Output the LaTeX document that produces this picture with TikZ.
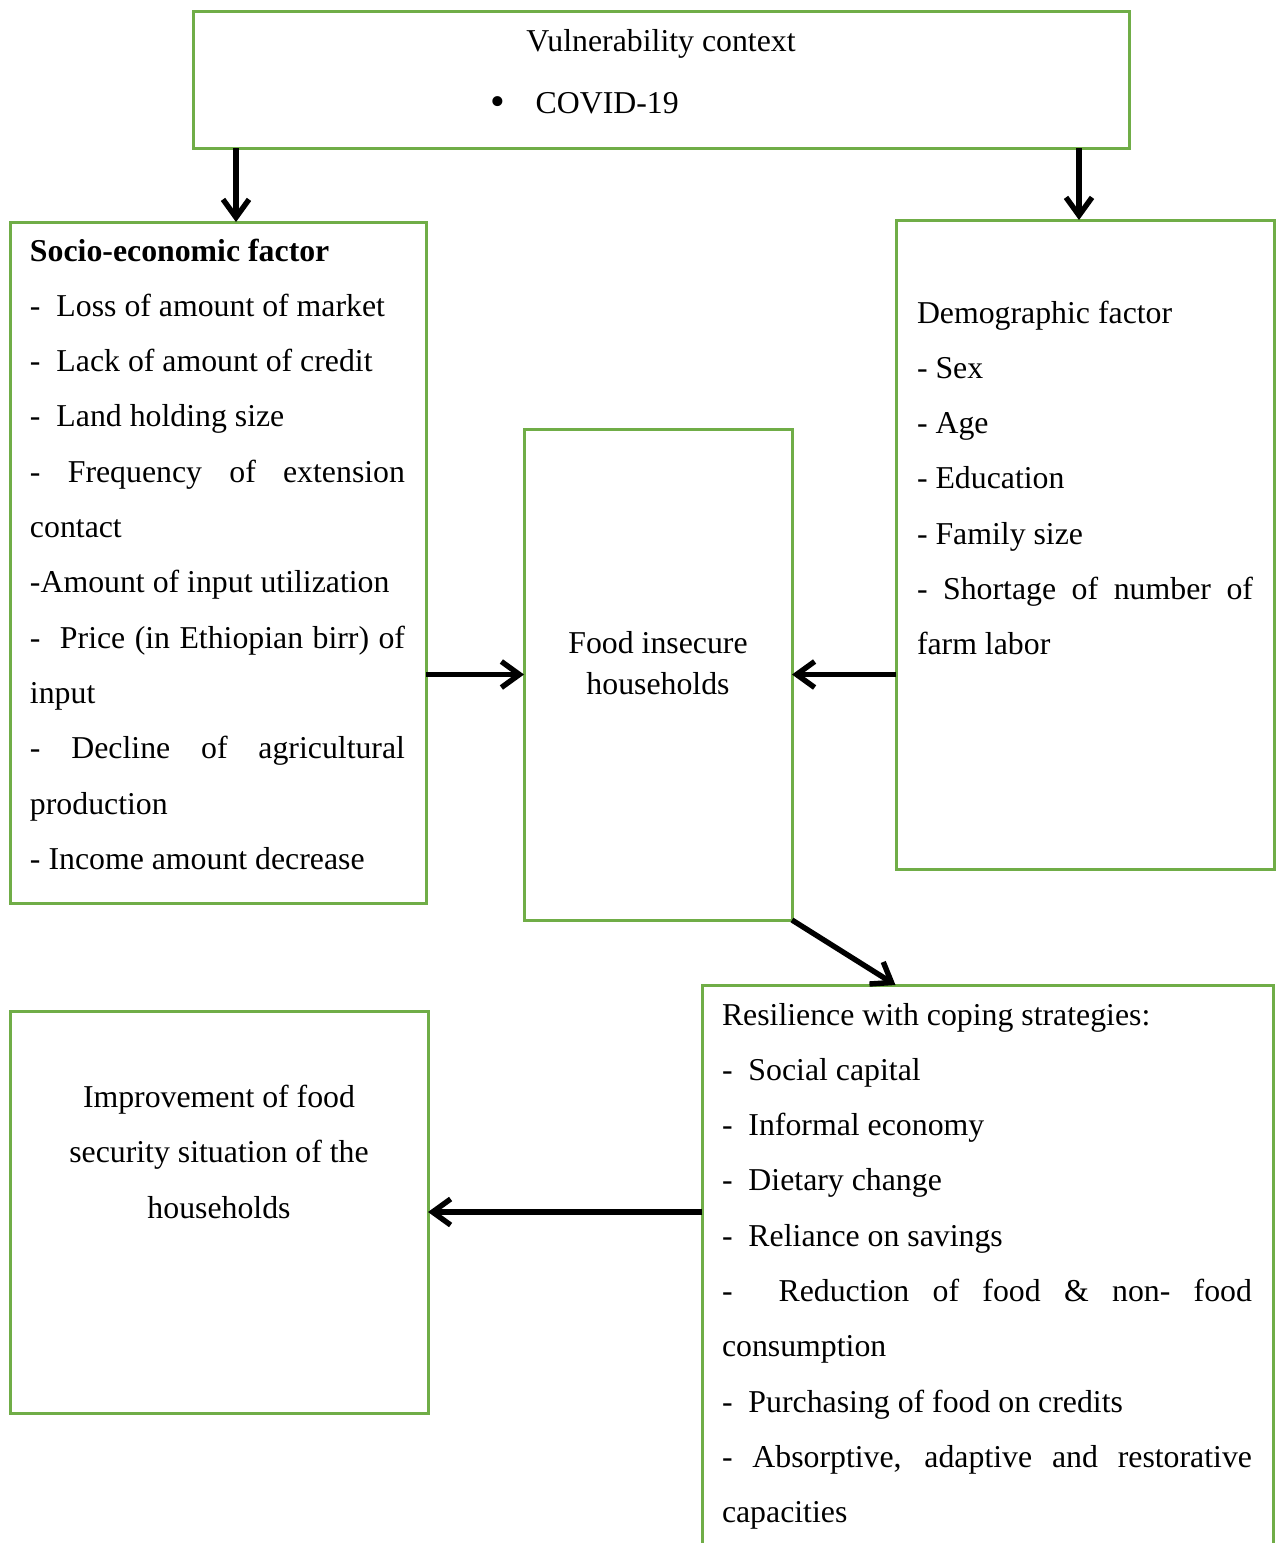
\documentclass[tikz,border=0pt]{standalone}
\usepackage{fontspec}
\setmainfont{Liberation Serif}
\usetikzlibrary{arrows.meta}
\definecolor{boxgreen}{RGB}{112,173,71}
\begin{document}
\begin{tikzpicture}[x=0.5pt, y=-0.5pt,
  every node/.style={font={\fontsize{15.9}{27.65}\selectfont}, inner sep=0pt, outer sep=0pt},
  box/.style={draw=boxgreen, line width=1.5pt, rectangle},
  txt/.style={anchor=base west, align=flush left},
  arr/.style={draw=black, line width=2.7pt, -{Straight Barb[length=9pt,width=13pt]}}]
\useasboundingbox (0,0) rectangle (1276,1543);
\clip (0,0) rectangle (1276,1543);
\node[box, minimum width=468pt, minimum height=68.5pt] (vul) at (661,79.5) {};
\node[box, minimum width=208pt, minimum height=340.5pt] (socio) at (218,562.5) {};
\node[box, minimum width=134pt, minimum height=245.5pt] (food) at (658,674.5) {};
\node[box, minimum width=189pt, minimum height=324.5pt] (demo) at (1085,544.5) {};
\node[box, minimum width=285.5pt, minimum height=292.5pt] (resil) at (987.5,1277.5) {};
\node[box, minimum width=209pt, minimum height=201pt] (impr) at (219,1212) {};
\node[anchor=base] (vul-title) at (661,51) {Vulnerability context};
\node[anchor=base west] (vul-item) at (490,113) {\raisebox{-1pt}{\fontsize{21}{21}\selectfont\textbullet}\hspace{15.5pt}COVID-19};
\node[txt, text width=187.5pt] (socio-txt) at (30,261) {\textbf{Socio-economic factor}\\
-\ \ Loss of amount of market\\
-\ \ Lack of amount of credit\\
-\ \ Land holding size\\
\makebox[\hsize][s]{- Frequency of extension}\\
contact\\
-Amount of input utilization\\
\makebox[\hsize][s]{-\hspace{5pt} Price (in Ethiopian birr) of}\\
input\\
\makebox[\hsize][s]{- Decline of agricultural}\\
production\\
- Income amount decrease};
\node[anchor=base, align=center, font={\fontsize{15.9}{20.5}\selectfont}] (food-txt) at (658,694) {Food insecure\\households};
\node[txt, text width=168pt] (demo-txt) at (917,323) {Demographic factor\\
- Sex\\
- Age\\
- Education\\
- Family size\\
\makebox[\hsize][s]{- Shortage of number of}\\
farm labor};
\node[txt, text width=265pt] (resil-txt) at (722,1025) {Resilience with coping strategies:\\
-\ \ Social capital\\
-\ \ Informal economy\\
-\ \ Dietary change\\
-\ \ Reliance on savings\\
\makebox[\hsize][s]{-\hspace{23pt}Reduction of food \& non- food}\\
consumption\\
-\ \ Purchasing of food on credits\\
\makebox[\hsize][s]{- Absorptive, adaptive and restorative}\\
capacities};
\node[anchor=base, align=center] (impr-txt) at (219,1218) {Improvement of food\\security situation of the\\households};
\coordinate (a1) at ([xshift=9pt]socio.north);
\coordinate (a2) at ([xshift=-3pt]demo.north);
\coordinate (a3) at ([xshift=-46pt]resil.north);
\draw[arr] (a1 |- vul.south) -- (a1);
\draw[arr] (a2 |- vul.south) -- (a2);
\draw[arr] (socio.east |- food.west) -- (food.west);
\draw[arr] (demo.west |- food.east) -- (food.east);
\draw[arr] (food.south east) -- (a3);
\draw[arr] (resil.west |- impr.east) -- (impr.east);
\end{tikzpicture}
\end{document}
